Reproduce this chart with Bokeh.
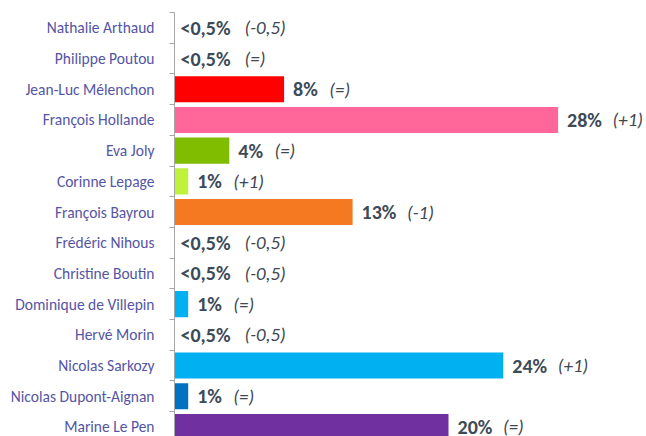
import numpy as np
from bokeh.plotting import figure
from bokeh.models import ColumnDataSource, Range1d, FixedTicker, LabelSet
from bokeh.core.properties import value
from bokeh.embed import file_html
from bokeh.resources import INLINE

candidates = ["Nathalie Arthaud", "Philippe Poutou", "Jean-Luc Mélenchon", "François Hollande",
              "Eva Joly", "Corinne Lepage", "François Bayrou", "Frédéric Nihous",
              "Christine Boutin", "Dominique de Villepin", "Hervé Morin", "Nicolas Sarkozy",
              "Nicolas Dupont-Aignan", "Marine Le Pen"]
values = [0, 0, 8, 28, 4, 1, 13, 0, 0, 1, 0, 24, 1, 20]
value_labels = ["<0,5%", "<0,5%", "8%", "28%", "4%", "1%", "13%", "<0,5%", "<0,5%", "1%",
                "<0,5%", "24%", "1%", "20%"]
change_labels = ["(-0,5)", "(=)", "(=)", "(+1)", "(=)", "(+1)", "(-1)", "(-0,5)", "(-0,5)",
                 "(=)", "(-0,5)", "(+1)", "(=)", "(=)"]
colors = ["#FFFFFF", "#FFFFFF", "#FF0000", "#FF6699", "#80BC00", "#BFF23A", "#F47920",
          "#FFFFFF", "#FFFFFF", "#00B0F0", "#FFFFFF", "#00B0F0", "#0070C0", "#7030A0"]

n = len(candidates)
ypos = np.arange(n) + 0.5
px_per_unit = 13.7
row_px = 30.7
left_border = 174
top_border = 12
fig_w = 646
fig_h = 436

voff = [6 if v == 0 else 9 for v in values]
coff = [o + 9.3 * len(l) + 17.5 for o, l in zip(voff, value_labels)]

src = ColumnDataSource(dict(y=ypos, value=values, color=colors, vlabel=value_labels,
                            clabel=change_labels, voff=voff, coff=coff))

p = figure(width=fig_w, height=fig_h, output_backend="svg", toolbar_location=None,
           x_range=Range1d(0, (fig_w - left_border) / px_per_unit),
           y_range=Range1d((fig_h - top_border) / row_px, 0),
           x_axis_location=None, min_border_left=left_border, min_border_right=0,
           min_border_top=top_border, min_border_bottom=0, outline_line_color=None)
p.grid.visible = False

p.hbar(y="y", left=0, right="value", height=0.85, fill_color="color", line_color=None,
       source=src)

ax = p.yaxis[0]
ax.ticker = FixedTicker(ticks=list(ypos), minor_ticks=list(np.arange(n + 1)))
ax.major_label_overrides = {float(c): name for c, name in zip(ypos, candidates)}
ax.major_tick_out = 0
ax.major_tick_in = 0
ax.minor_tick_out = 5
ax.minor_tick_in = 0
ax.axis_line_color = "#A6A6A6"
ax.minor_tick_line_color = "#A6A6A6"
ax.major_label_standoff = 15
ax.major_label_text_font = "Carlito"
ax.major_label_text_font_size = "15.5px"
ax.major_label_text_color = "#5555A5"

vl = LabelSet(x="value", y="y", text="vlabel", x_offset="voff", source=src,
              text_font=value("Carlito"), text_font_style="bold", text_font_size="20px",
              text_color="#3D4A57", text_align="left", text_baseline="middle")
cl = LabelSet(x="value", y="y", text="clabel", x_offset="coff", source=src,
              text_font=value("Carlito"), text_font_style="italic", text_font_size="19px",
              text_color="#3F4752", text_align="left", text_baseline="middle")
p.add_layout(vl)
p.add_layout(cl)

open("out.html", "w").write(file_html(p, INLINE))
